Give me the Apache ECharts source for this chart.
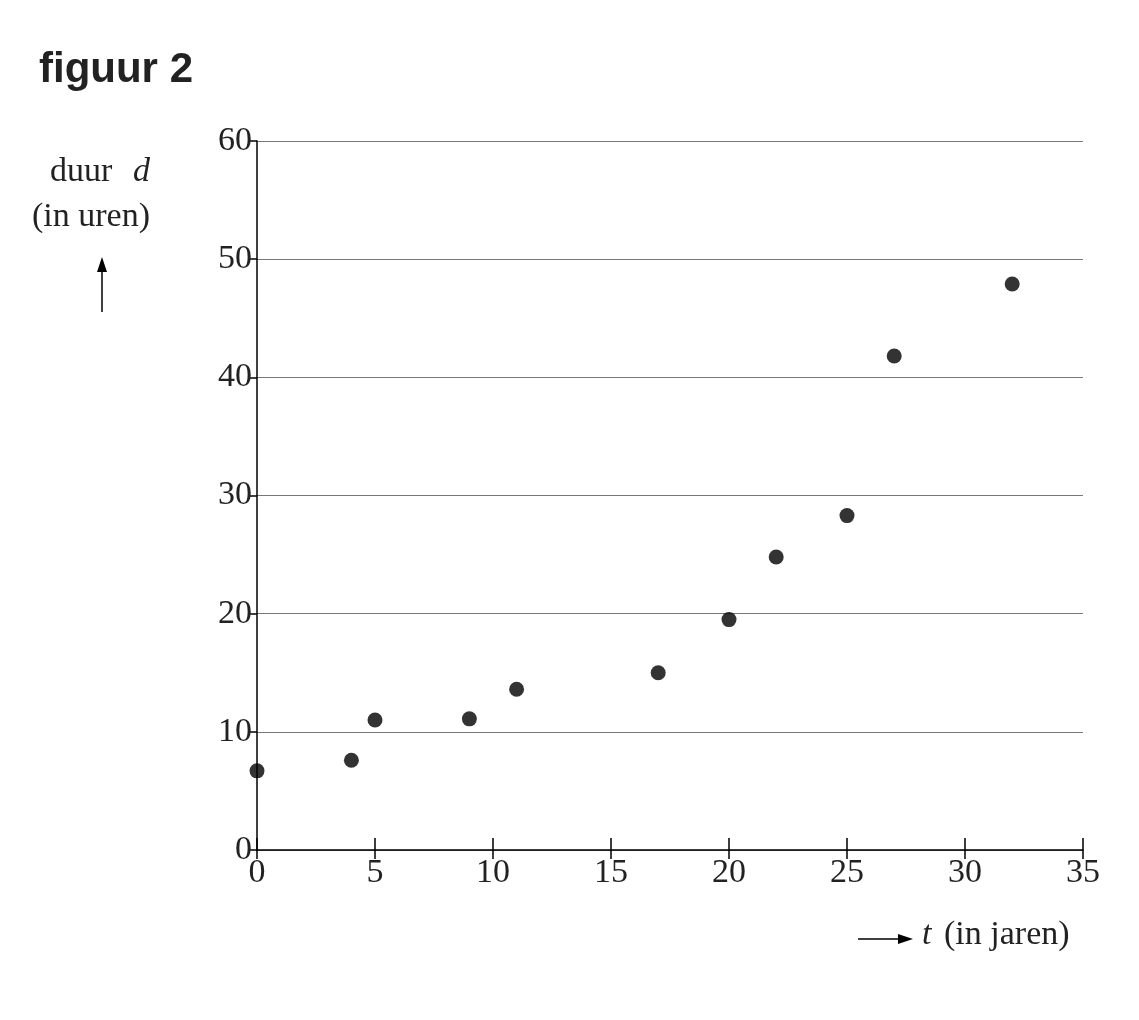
<!DOCTYPE html>
<html><head><meta charset="utf-8">
<script src="https://cdn.jsdelivr.net/npm/echarts@6/dist/echarts.min.js"></script>
<style>html,body{margin:0;background:#fff}#c{width:1139px;height:1020px}</style>
</head><body><div id="c"></div>
<script>
// data
const tYears = [0, 4, 5, 9, 11, 17, 20, 22, 25, 27, 32];
const dHours = [6.7, 7.6, 11.0, 11.1, 13.6, 15.0, 19.5, 24.8, 28.3, 41.8, 47.9];
const points = tYears.map((t, i) => [t, dHours[i]]);

const serif = '"Liberation Serif", "DejaVu Serif", serif';
const chart = echarts.init(document.getElementById('c'));
const tickStyle = { color: '#000', width: 1.5 };

chart.setOption({
  animation: false,
  grid: { left: 257, right: 56, top: 141, bottom: 170, containLabel: false },
  title: {
    text: 'figuur 2', left: 34, top: 44,
    textStyle: { fontFamily: '"Liberation Sans", Arial, sans-serif', fontWeight: 'bold', fontSize: 42, color: '#222' }
  },
  xAxis: [{
    type: 'value', min: 0, max: 35, interval: 5,
    axisLine: { show: true, onZero: false, lineStyle: { color: '#000', width: 1.5 } },
    axisTick: { show: true, length: 9, lineStyle: tickStyle },
    axisLabel: { color: '#222', fontFamily: serif, fontSize: 34, margin: 6 },
    splitLine: { show: false }
  }, {
    type: 'value', min: 0, max: 35, interval: 5, position: 'bottom',
    axisLine: { show: false },
    axisTick: { show: true, inside: true, length: 12, lineStyle: tickStyle },
    axisLabel: { show: false }, splitLine: { show: false }
  }],
  yAxis: [{
    type: 'value', min: 0, max: 60, interval: 10,
    axisLine: { show: true, onZero: false, lineStyle: { color: '#000', width: 1.5 } },
    axisTick: { show: true, length: 9, lineStyle: tickStyle },
    axisLabel: { color: '#222', fontFamily: serif, fontSize: 34, margin: 5 },
    splitLine: { show: true, lineStyle: { color: '#777', width: 1.2 } }
  }],
  series: [{
    type: 'scatter', data: points, symbolSize: 15,
    itemStyle: { color: '#000' }, clip: false
  }],
  graphic: [
    { type: 'text', left: 50, top: 155, style: { text: 'duur ', font: '34px ' + serif, fill: '#222' } },
    { type: 'text', left: 133, top: 155, style: { text: 'd', font: 'italic 34px ' + serif, fill: '#222' } },
    { type: 'text', left: 32, top: 200, style: { text: '(in uren)', font: '34px ' + serif, fill: '#222' } },
    { type: 'line', shape: { x1: 102, y1: 312, x2: 102, y2: 262 }, style: { stroke: '#000', lineWidth: 1.5 } },
    { type: 'polygon', shape: { points: [[97, 272], [102, 257], [107, 272]] }, style: { fill: '#000' } },
    { type: 'line', shape: { x1: 858, y1: 939, x2: 905, y2: 939 }, style: { stroke: '#000', lineWidth: 1.5 } },
    { type: 'polygon', shape: { points: [[898, 934], [913, 939], [898, 944]] }, style: { fill: '#000' } },
    { type: 'text', left: 922, top: 918, style: { text: 't', font: 'italic 34px ' + serif, fill: '#222' } },
    { type: 'text', left: 944, top: 918, style: { text: '(in jaren)', font: '34px ' + serif, fill: '#222' } }
  ]
});
</script></body></html>
